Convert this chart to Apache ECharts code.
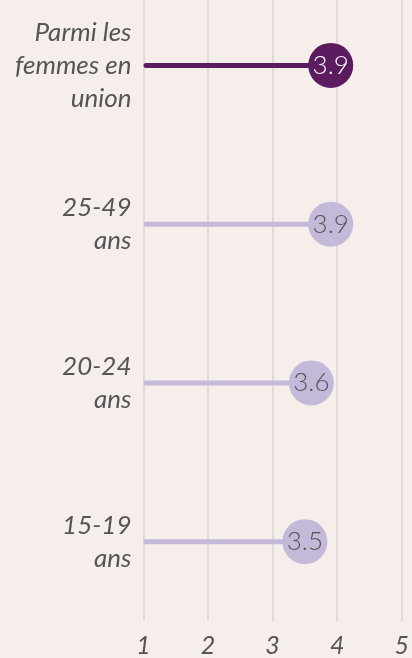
<!DOCTYPE html>
<html><head><meta charset="utf-8">
<script src="https://cdn.jsdelivr.net/npm/echarts@6/dist/echarts.min.js"></script>
<style>html,body{margin:0;padding:0;background:#f5eeeb;overflow:hidden;}#c{width:412px;height:672px;position:absolute;left:0;top:-14px;}</style>
</head><body><div id="c"></div>
<script>
const categories = ["Parmi les\nfemmes en\nunion", "25-49\nans", "20-24\nans", "15-19\nans"];
const values = [3.9, 3.9, 3.6, 3.5];
const xTicks = [1, 2, 3, 4, 5];
const dark = "#5b1b5f", light = "#c5b9da";
const colors = values.map((v, i) => i === 0 ? dark : light);

const chart = echarts.init(document.getElementById('c'));
chart.setOption({
  backgroundColor: '#f5eeeb',
  animation: false,
  grid: { left: 143.5, right: 8.5, top: 0, bottom: 37 },
  xAxis: {
    type: 'value', min: xTicks[0], max: xTicks[xTicks.length - 1], interval: 1,
    axisLine: { show: false }, axisTick: { show: false },
    splitLine: { show: true, lineStyle: { color: '#dedbd9', width: 2 } },
    axisLabel: { color: '#555', fontFamily: 'Lato', fontStyle: 'italic', fontSize: 25, margin: 12 }
  },
  yAxis: {
    type: 'category', data: categories, inverse: true,
    axisLine: { show: false }, axisTick: { show: false },
    axisLabel: { color: '#555', fontFamily: 'Lato', fontStyle: 'italic', fontSize: 26, lineHeight: 33, margin: 12, align: 'right' }
  },
  series: [
    {
      type: 'bar', barWidth: 5,
      data: values.map((v, i) => ({ value: v, itemStyle: { color: colors[i], borderRadius: 2.5 } })),
      z: 2
    },
    {
      type: 'scatter', symbol: 'circle', symbolSize: 45,
      data: values.map((v, i) => ({
        value: [v, i],
        itemStyle: { color: colors[i], opacity: 1 },
        label: { show: true, position: 'inside', formatter: v.toFixed(1), color: i === 0 ? '#fff' : '#555', fontFamily: 'Lato', fontWeight: 300, fontSize: 26 }
      })),
      z: 3
    }
  ]
});
</script></body></html>
